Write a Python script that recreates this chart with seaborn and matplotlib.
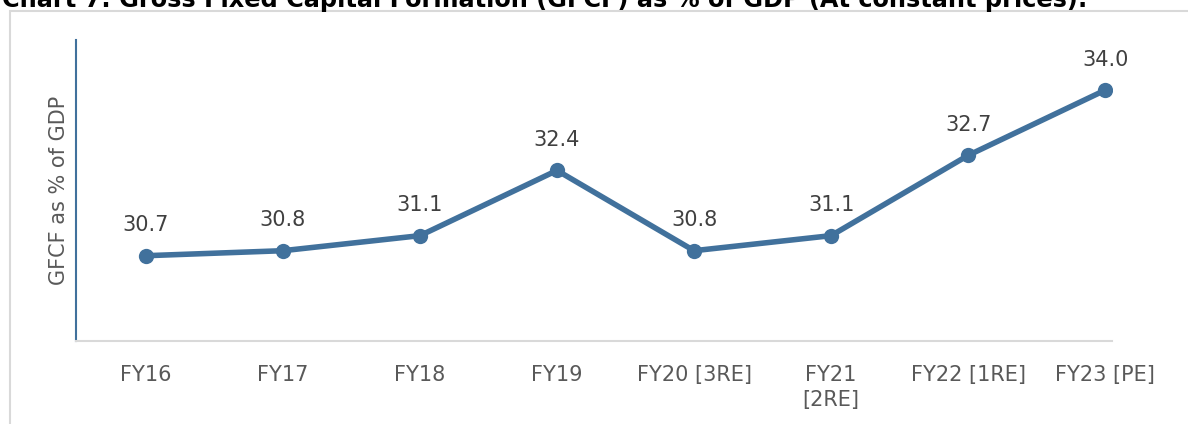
import matplotlib
matplotlib.use('Agg')
import matplotlib.pyplot as plt
import matplotlib.patches as patches
import seaborn as sns
import pandas as pd

# chart data
years = ['FY16', 'FY17', 'FY18', 'FY19', 'FY20 [3RE]', 'FY21\n[2RE]', 'FY22 [1RE]', 'FY23 [PE]']
gfcf = [30.7, 30.8, 31.1, 32.4, 30.8, 31.1, 32.7, 34.0]
title = 'Chart 7: Gross Fixed Capital Formation (GFCF) as % of GDP (At constant prices):'

df = pd.DataFrame({'year': years, 'gfcf': gfcf})
df['pos'] = range(len(df))

sns.set_style('white')
plt.rcParams['font.family'] = ['DejaVu Sans']

line_color = '#41719C'

fig = plt.figure(figsize=(11.88, 4.24), dpi=100)
ax = fig.add_axes([76 / 1188, 1 - 341 / 424, (1112 - 76) / 1188, (341 - 40) / 424])

sns.lineplot(data=df, x='pos', y='gfcf', ax=ax, color=line_color, linewidth=4,
             marker='o', markersize=11, markeredgewidth=0, sort=False)

for x, y in zip(df['pos'], df['gfcf']):
    ax.annotate(f'{y:.1f}', (x, y), xytext=(0, 17.5), textcoords='offset points',
                ha='center', va='baseline', fontsize=15, color='#404040')

ax.set_xlim(-0.51, 7.05)
ax.set_ylim(29, 35)
ax.set_xticks(df['pos'])
ax.set_xticklabels(years, fontsize=15, color='#595959', linespacing=1.35)
ax.set_yticks([])
ax.tick_params(axis='x', length=0, pad=17)
ax.set_xlabel('')
ax.set_ylabel('GFCF as % of GDP', fontsize=15, color='#595959', labelpad=5)

for s in ['top', 'right']:
    ax.spines[s].set_visible(False)
ax.spines['left'].set_color(line_color)
ax.spines['left'].set_linewidth(1.5)
ax.spines['bottom'].set_color('#d9d9d9')
ax.spines['bottom'].set_linewidth(1.5)

# outer frame of the chart box (runs off the right and bottom edges)
fig.patches.append(patches.Rectangle((10 / 1188, -0.05), 1.2, 1 - 11 / 424 + 0.05,
                                     transform=fig.transFigure, fill=False,
                                     edgecolor='#d9d9d9', linewidth=1.5))

# title sits mostly above the crop, as in the source image
fig.text(2 / 1188, 1 - 7 / 424, title, fontsize=17.3, fontweight='bold',
         color='black', ha='left', va='baseline')

fig.savefig('out.png', dpi=100)
